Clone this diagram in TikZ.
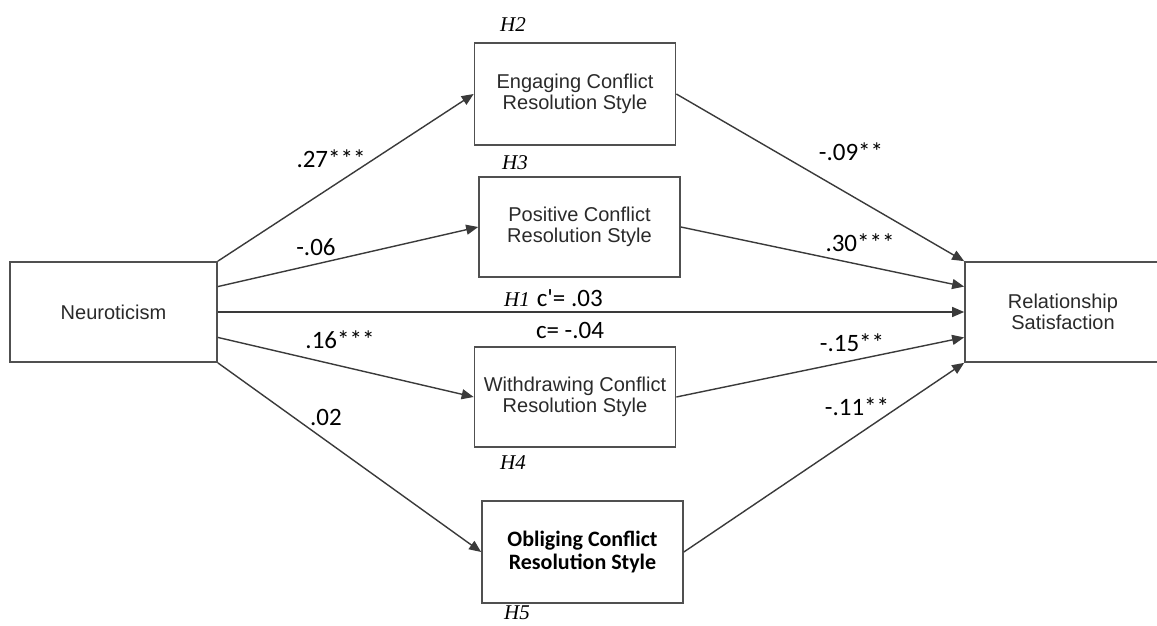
\documentclass[tikz,border=0pt]{standalone}
\usepackage{fontspec}
\setmainfont{Liberation Sans}
\newfontfamily\calib{Carlito}
\newfontfamily\tms{Liberation Serif}
\usetikzlibrary{arrows.meta,calc}
\definecolor{linegray}{HTML}{3A3A3A}
\definecolor{boxgray}{HTML}{505050}
\definecolor{txtgray}{HTML}{2A2A2A}
\begin{document}
\begin{tikzpicture}[x=1pt,y=-1pt,
  box/.style={draw=boxgray,line width=1.7pt,minimum width=201pt,minimum height=100pt,
    align=center,inner sep=0pt,text=txtgray,font=\fontsize{20}{21.5}\selectfont},
  boldbox/.style={box,text=black,font=\calib\bfseries\fontsize{22}{23}\selectfont},
  conn/.style={draw=linegray,line width=1.4pt,-{Triangle[length=12pt,width=10pt]}},
  coef/.style={inner sep=0pt,font=\calib\fontsize{25}{27}\selectfont},
  hyp/.style={inner sep=0pt,font=\tms\itshape\fontsize{21}{22}\selectfont}]
\useasboundingbox (0,0) rectangle (1157,626);
\fill[white] (0,0) rectangle (1157,626);

\node[box,minimum width=207pt] (neu) at (113.5,312) {Neuroticism};
\node[box,minimum height=102pt] (eng) at (575,94) {Engaging Conflict\\Resolution Style};
\node[box] (pos) at (579.5,227) {Positive Conflict\\Resolution Style};
\node[box] (wit) at (575,397) {Withdrawing Conflict\\Resolution Style};
\node[boldbox,minimum height=102pt] (obl) at (582.5,552) {Obliging Conflict\\Resolution Style};
\node[box,minimum width=200pt] (rel) at (1065,312) {\hspace*{-4pt}Relationship\\\hspace*{-4pt}Satisfaction};

\node[hyp] (h2) at (513,25) {H2};
\node[hyp] (h3) at (515,163) {H3};
\node[hyp] (h4) at (513,463) {H4};
\node[hyp] (h5) at (517,613) {H5};

\draw[conn] (neu.north east) -- (eng.west);
\draw[conn] ($(neu.north east)!0.25!(neu.south east)$) -- (pos.west);
\draw[conn] (neu.east) -- (rel.west);
\draw[conn] ($(neu.north east)!0.75!(neu.south east)$) -- (wit.west);
\draw[conn] (neu.south east) -- (obl.west);

\draw[conn] (eng.east) -- (rel.north west);
\draw[conn] (pos.east) -- ($(rel.north west)!0.25!(rel.south west)$);
\draw[conn] (wit.east) -- ($(rel.north west)!0.75!(rel.south west)$);
\draw[conn] (obl.east) -- (rel.south west);

\node[coef] (l1) at (331,159) {.27***};
\node[coef] (l2) at (316,247) {-.06};
\node[coef] (l3) at (340,340) {.16***};
\node[coef] (l4) at (326,417) {.02};
\node[coef] (r1) at (851,152) {-.09**};
\node[coef] (r2) at (860,243) {.30***};
\node[coef] (r3) at (852,343) {-.15**};
\node[coef] (r4) at (857,407) {-.11**};
\node[inner sep=0pt,anchor=west] (h1) at (504,298) {{\tms\itshape\fontsize{21}{22}\selectfont H1}\hspace{7pt}{\calib\fontsize{25}{27}\selectfont c'= .03}};
\node[coef] (c) at (570,330) {c= -.04};
\end{tikzpicture}
\end{document}
